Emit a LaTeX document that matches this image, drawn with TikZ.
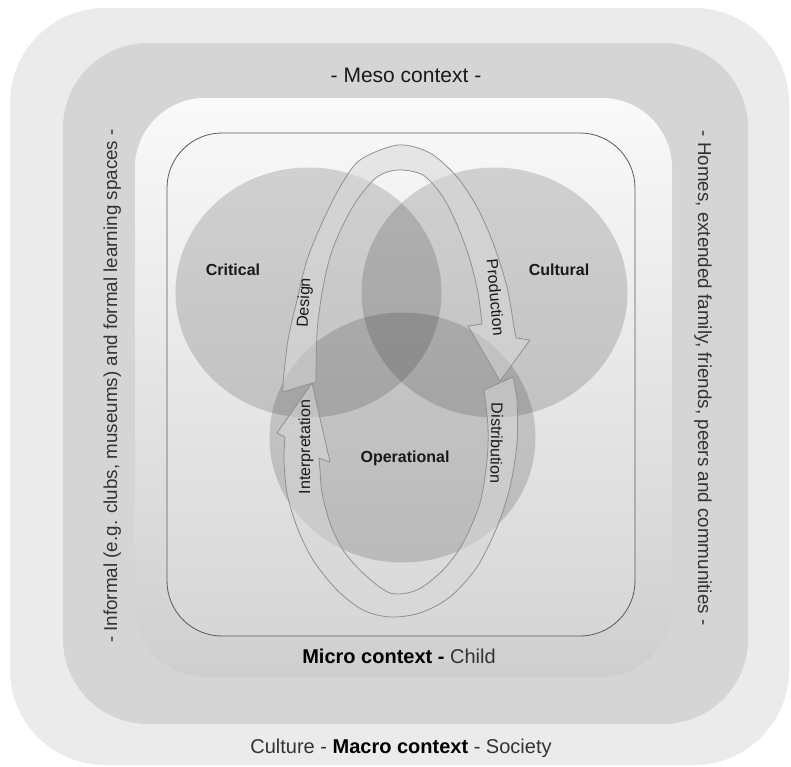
\documentclass[tikz,border=0pt]{standalone}
\usepackage{fontspec}
\setmainfont{Liberation Sans}
\definecolor{layerA}{HTML}{EBEBEB}
\definecolor{layerB}{HTML}{D5D5D5}
\definecolor{txtgray}{HTML}{333333}
\definecolor{bandfill}{HTML}{D8D8D8}
\definecolor{bandline}{HTML}{909090}
\begin{document}
\begin{tikzpicture}[x=1pt,y=-1pt,
  outertext/.style={font=\fontsize{20}{24}\selectfont, text=txtgray, inner sep=0pt},
  sidetext/.style={font=\fontsize{18.8}{22}\selectfont, text=txtgray, inner sep=0pt},
  circlabel/.style={font=\fontsize{16}{19}\selectfont\bfseries, text=black!90, inner sep=0pt},
  arrowlabel/.style={font=\fontsize{16}{19}\selectfont, text=black!90, inner sep=0pt},
  venn/.style={fill=black, fill opacity=0.15},
  band/.style={fill=bandfill, fill opacity=0.55, draw=bandline, line width=0.8pt, line join=round}]
\useasboundingbox (0,0) rectangle (791,766);
\fill[white] (0,0) rectangle (791,766);
% layers
\fill[layerA, rounded corners=95pt] (10,8) rectangle (789,765);
\fill[layerB, rounded corners=85pt] (63,43) rectangle (748,724);
\shade[top color=white!98!black, bottom color=black!19, rounded corners=70pt] (135,98) rectangle (672,677);
\shade[top color=white!97!black, bottom color=black!16, rounded corners=55pt, draw=black!65, line width=0.8pt] (167,133) rectangle (635,636);
% Venn
\fill[venn] (308.5,292.5) ellipse [x radius=133, y radius=125];
\fill[venn] (494.5,292.5) ellipse [x radius=133, y radius=125];
\fill[venn] (402.5,437.5) ellipse [x radius=133, y radius=125];
% upper arrow: Design -> Production
\path[band] (283,392) -- plot[smooth] coordinates {(283,383) (288,340) (297,300) (307,260) (322,223) (340,187) (360,160) (398,145) (430,153) (457,177) (477,207) (493,243) (507,287) (515,333) (517,338)}
  -- (530,340) -- (500,381) -- (468,326)
  -- plot[smooth] coordinates {(482,324) (478,293) (470,260) (458,227) (443,197) (423,175) (398,170) (377,177) (357,200) (342,227) (330,257) (322,293) (317,333) (316,382)}
  -- cycle;
% lower arrow: Distribution -> Interpretation
\path[band] plot[smooth] coordinates {(513,377) (517,400) (517,443) (510,487) (497,527) (477,567) (450,597) (420,613) (390,617) (363,610) (337,590) (313,560) (297,527) (287,493) (284,460) (285,437)}
  -- (277,433) -- (312,383) -- (330,462)
  -- plot[smooth] coordinates {(319,458) (320,470) (322,493) (330,523) (343,550) (363,573) (390,593) (417,590) (443,570) (463,543) (480,503) (487,460) (488,427) (484,390)}
  -- cycle;
% circle labels
\node[circlabel, anchor=base] (critical) at (233,275) {Critical};
\node[circlabel, anchor=base] (cultural) at (559,275) {Cultural};
\node[circlabel, anchor=base] (operational) at (405,462) {Operational};
% arrow labels
\node[arrowlabel, anchor=base, rotate=87] (design) at (309,303) {Design};
\node[arrowlabel, anchor=base, rotate=-85] (production) at (490,298) {Production};
\node[arrowlabel, anchor=base, rotate=90] (interpretation) at (310,447) {Interpretation};
\node[arrowlabel, anchor=base, rotate=-91] (distribution) at (491,443) {Distribution};
% context labels
\node[outertext, anchor=base, text=black!90, font=\fontsize{21}{24}\selectfont] (meso) at (406,82) {- Meso context -};
\node[outertext, anchor=base] (micro) at (399,663) {{\color{black}\bfseries Micro context -} Child};
\node[outertext, anchor=base] (macro) at (401,753) {Culture - {\color{black}\bfseries Macro context} - Society};
\node[sidetext, anchor=base, rotate=90] (informal) at (117,386) {- Informal (e.g. clubs, museums) and formal learning spaces -};
\node[sidetext, anchor=base, rotate=-90] (homes) at (698,378) {- Homes, extended family, friends, peers and communities -};
\end{tikzpicture}
\end{document}
